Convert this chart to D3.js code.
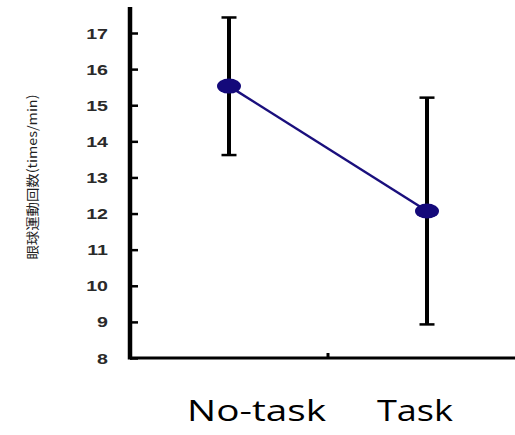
<!DOCTYPE html>
<html>
<head>
<meta charset="utf-8">
<script src="https://cdn.jsdelivr.net/npm/d3@7"></script>
<style>
  html, body { margin: 0; padding: 0; background: #fff; }
  svg { display: block; }
</style>
</head>
<body>
<svg id="chart" width="515" height="435"></svg>
<script>
// Eye-movement frequency (times/min), mean ± SD per condition
const categories = ["No-task", "Task"];
const means = [15.53, 12.07];
const errUpper = [17.43, 15.21];
const errLower = [13.62, 8.93];
const yTicks = [8, 9, 10, 11, 12, 13, 14, 15, 16, 17];
const yTitle = "眼球運動回数(times/min)";

const svg = d3.select("#chart");

// Plot frame
const x0 = 130, x1 = 526, yBottom = 358;
const y = d3.scaleLinear().domain([8, 17]).range([yBottom, 33]);
const x = d3.scaleLinear().domain([0, 1]).range([x0, x1]);
const xPos = i => x(0.25 + 0.5 * i);

// Y axis (ticks point into the plot, labels sit left of the axis line)
const tickStretch = 1.4;
const yAxis = d3.axisRight(y).tickValues(yTicks).tickSize(8).tickFormat(d3.format("d"));
const gy = svg.append("g").attr("transform", `translate(${x0},0)`).call(yAxis);
gy.select(".domain").remove();
gy.selectAll(".tick line").attr("stroke", "#000").attr("stroke-width", 2.5);
gy.selectAll(".tick text")
  .attr("x", -22 / tickStretch)
  .attr("transform", `scale(${tickStretch},1)`)
  .attr("text-anchor", "end")
  .attr("fill", "#2a2a2a")
  .style("font-family", "'Liberation Sans', Arial, sans-serif")
  .style("font-size", "14px")
  .style("font-weight", "bold")
  .attr("dy", "0.36em");
svg.append("line")
  .attr("x1", x0).attr("x2", x0)
  .attr("y1", y(17.72)).attr("y2", yBottom + 1.5)
  .attr("stroke", "#000").attr("stroke-width", 4.5);

// X axis with a single centre tick
svg.append("line")
  .attr("x1", x0).attr("x2", x1)
  .attr("y1", yBottom).attr("y2", yBottom)
  .attr("stroke", "#000").attr("stroke-width", 3);
svg.append("line")
  .attr("x1", x(0.5)).attr("x2", x(0.5))
  .attr("y1", yBottom).attr("y2", yBottom - 5)
  .attr("stroke", "#000").attr("stroke-width", 3);

// Error bars
const eb = svg.append("g");
categories.forEach((c, i) => {
  const cx = xPos(i);
  eb.append("line").attr("x1", cx).attr("x2", cx)
    .attr("y1", y(errUpper[i])).attr("y2", y(errLower[i]))
    .attr("stroke", "#000").attr("stroke-width", 4);
  [errUpper[i], errLower[i]].forEach(v => {
    eb.append("line").attr("x1", cx - 7.5).attr("x2", cx + 7.5)
      .attr("y1", y(v)).attr("y2", y(v))
      .attr("stroke", "#000").attr("stroke-width", 2.5);
  });
});

// Mean line and markers
const line = d3.line().x((d, i) => xPos(i)).y(d => y(d));
svg.append("path").datum(means)
  .attr("d", line)
  .attr("fill", "none")
  .attr("stroke", "#1a0f7d")
  .attr("stroke-width", 2.5);
svg.selectAll("ellipse.pt").data(means).enter().append("ellipse")
  .attr("class", "pt")
  .attr("cx", (d, i) => xPos(i))
  .attr("cy", d => y(d))
  .attr("rx", 12).attr("ry", 7.5)
  .attr("fill", "#14097a");

// Y axis title
svg.append("text")
  .attr("transform", "translate(37,177) rotate(-90)")
  .attr("text-anchor", "middle")
  .attr("textLength", 165)
  .attr("lengthAdjust", "spacingAndGlyphs")
  .attr("fill", "#222")
  .style("font-family", "'Noto Sans CJK JP', sans-serif")
  .style("font-size", "13px")
  .text(yTitle);

// Category labels
const labelLeft = [187, 377];
const labelWidth = [139, 76];
categories.forEach((c, i) => {
  svg.append("text")
    .attr("x", labelLeft[i]).attr("y", 421)
    .attr("textLength", labelWidth[i])
    .attr("lengthAdjust", "spacingAndGlyphs")
    .attr("fill", "#000")
    .style("font-family", "'Open Sans', sans-serif")
    .style("font-size", "30px")
    .text(c);
});
</script>
</body>
</html>
